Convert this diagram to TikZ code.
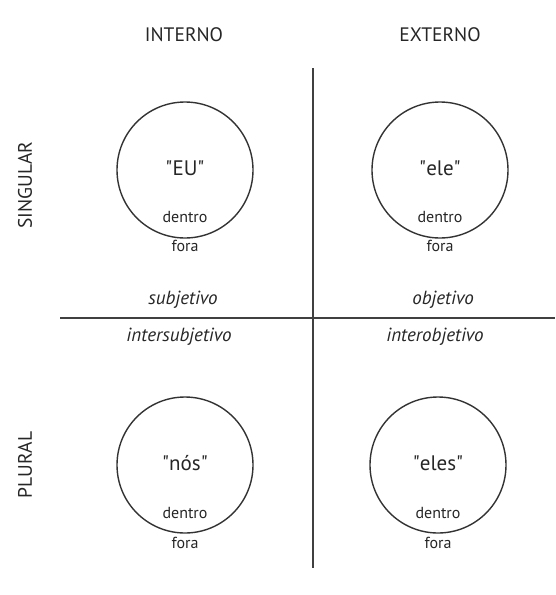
\documentclass[tikz,border=0pt]{standalone}
\usepackage{fontspec}
\setmainfont{PT Sans}
\begin{document}
\begin{tikzpicture}[x=1pt,y=-1pt,
  head/.style={font=\fontsize{19.5}{22}\selectfont, text=black!85},
  big/.style={font=\fontsize{21}{24}\selectfont, text=black!85},
  small/.style={font=\fontsize{16}{18}\selectfont, text=black!85},
  quad/.style={font=\fontsize{19}{22}\selectfont\itshape, text=black!85},
  ring/.style={circle, draw=black!80, line width=1.4pt, minimum size=136pt, inner sep=0pt},
  rule/.style={draw=black!75, line width=1.2pt}]
\useasboundingbox (0,0) rectangle (555,595);
% axes
\coordinate (vt) at (313,68);
\coordinate (vb) at (313,568);
\coordinate (hl) at (60,318);
\coordinate (hr) at (555,318);
\draw[rule] (vt) -- (vb);
\draw[rule] (hl) -- (hr);
% headings
\node[head] (int) at (184,35) {INTERNO};
\node[head] (ext) at (440,35) {EXTERNO};
\node[head, rotate=90] (sing) at (25,185) {SINGULAR};
\node[head, rotate=90] (plur) at (25,465) {PLURAL};
% circles
\node[ring] (c1) at (185,170) {};
\node[ring] (c2) at (440,170) {};
\node[ring] (c3) at (185,465) {};
\node[ring] (c4) at (438,465) {};
% texts
\node[big] (eu) at (185,168) {\textquotedbl EU\textquotedbl};
\node[small] (d1) at (185,217) {dentro};
\node[small] (f1) at (185,246) {fora};
\node[big] (ele) at (440,168) {\textquotedbl ele\textquotedbl};
\node[small] (d2) at (440,217) {dentro};
\node[small] (f2) at (440,246) {fora};
\node[big] (nos) at (185,463) {\textquotedbl nós\textquotedbl};
\node[small] (d3) at (185,513) {dentro};
\node[small] (f3) at (185,543) {fora};
\node[big] (eles) at (438,463) {\textquotedbl eles\textquotedbl};
\node[small] (d4) at (438,513) {dentro};
\node[small] (f4) at (438,543) {fora};
% quadrant labels
\node[quad] (subj) at (183,300) {subjetivo};
\node[quad] (obj) at (443,300) {objetivo};
\node[quad] (isubj) at (179,337) {intersubjetivo};
\node[quad] (iobj) at (435,337) {interobjetivo};
\end{tikzpicture}
\end{document}
